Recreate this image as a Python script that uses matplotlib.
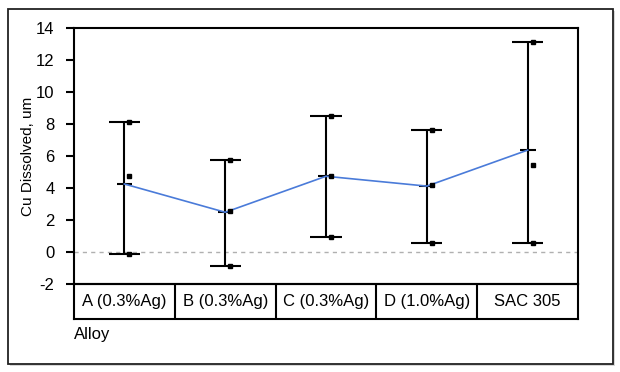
import matplotlib.pyplot as plt
import numpy as np
from matplotlib.patches import Rectangle

plt.rcParams['font.family'] = ['Liberation Sans', 'DejaVu Sans']
plt.rcParams['axes.unicode_minus'] = False

# alloys and the three Cu dissolved readings for each (um)
alloys = ['A (0.3%Ag)', 'B (0.3%Ag)', 'C (0.3%Ag)', 'D (1.0%Ag)', 'SAC 305']
readings = [
    [8.1, 4.75, -0.1],
    [5.75, 2.55, -0.85],
    [8.5, 4.75, 0.95],
    [7.6, 4.2, 0.55],
    [13.1, 5.45, 0.55],
]
yticks = [-2, 0, 2, 4, 6, 8, 10, 12, 14]

x = np.arange(len(alloys))
means = [np.mean(r) for r in readings]
lows = [min(r) for r in readings]
highs = [max(r) for r in readings]

fig = plt.figure(figsize=(6.2, 3.72), dpi=100)

# outer frame with a soft shadow, kept behind the axes
fig.patches.append(Rectangle((10 / 620, 1 - 366 / 372), 605 / 620, 355 / 372,
                             transform=fig.transFigure, facecolor='#d8d8d8',
                             edgecolor='none', zorder=-2))
fig.patches.append(Rectangle((8 / 620, 1 - 364 / 372), 605 / 620, 355 / 372,
                             transform=fig.transFigure, facecolor='white',
                             edgecolor='#222222', linewidth=1.3, zorder=-1))

ax = fig.add_axes([74 / 620, 1 - 284 / 372, 504 / 620, 256 / 372])
ax.set_facecolor('none')

# zero reference line
ax.axhline(0, color='#b0b0b0', linewidth=1, linestyle=(0, (3, 3)), zorder=1)

# range bars (min to max) with caps and mean tick
ax.vlines(x, lows, highs, color='black', linewidth=1.5, zorder=2)
ax.hlines(lows, x - 0.155, x + 0.155, color='black', linewidth=1.5, zorder=2)
ax.hlines(highs, x - 0.155, x + 0.155, color='black', linewidth=1.5, zorder=2)
ax.hlines(means, x - 0.075, x + 0.08, color='black', linewidth=1.5, zorder=2)

# mean line
ax.plot(x, means, color='#4a7bd9', linewidth=1.2, zorder=3)

# individual readings
for i, r in enumerate(readings):
    ax.plot([x[i] + 0.05] * len(r), r, linestyle='none', marker='s',
            markersize=2.3, color='black', zorder=4)

ax.set_xlim(-0.5, len(alloys) - 0.5)
ax.set_ylim(-2, 14)
ax.set_yticks(yticks)
ax.set_xticks([])
ax.tick_params(axis='y', length=6, width=1.5, pad=8, labelsize=12)
for s in ax.spines.values():
    s.set_linewidth(1.5)
ax.set_ylabel('Cu Dissolved, um', fontsize=11, labelpad=1)

# category table under the plot
tab = fig.add_axes([74 / 620, 1 - 319 / 372, 504 / 620, 35 / 372])
tab.set_facecolor('none')
tab.set_xlim(-0.5, len(alloys) - 0.5)
tab.set_ylim(0, 1)
tab.set_xticks([])
tab.set_yticks([])
for s in tab.spines.values():
    s.set_linewidth(1.5)
for b in x[:-1] + 0.5:
    tab.axvline(b, color='black', linewidth=1.5)
for i, name in enumerate(alloys):
    tab.text(x[i], 0.5, name, ha='center', va='center', fontsize=12)

fig.text(74 / 620, 1 - 335 / 372, 'Alloy', ha='left', va='center', fontsize=12)

fig.savefig('out.png', dpi=100)
